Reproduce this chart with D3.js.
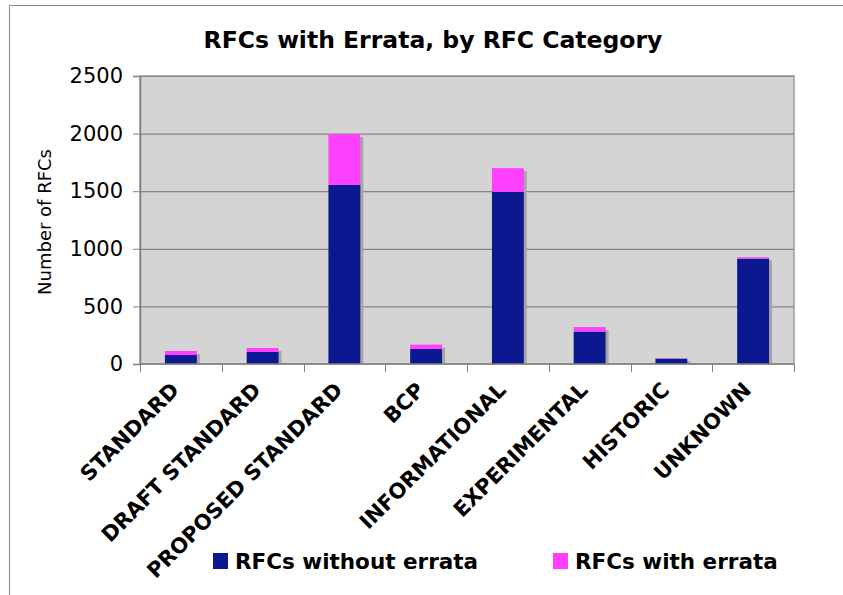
<!DOCTYPE html>
<html>
<head>
<meta charset="utf-8">
<script src="https://cdn.jsdelivr.net/npm/d3@7"></script>
<style>
  body { margin: 0; background: #fff; }
  svg { display: block; font-family: "DejaVu Sans", Verdana, sans-serif; }
</style>
</head>
<body>
<svg id="chart"></svg>
<script>
// Data
var categories = ['STANDARD', 'DRAFT STANDARD', 'PROPOSED STANDARD', 'BCP',
                  'INFORMATIONAL', 'EXPERIMENTAL', 'HISTORIC', 'UNKNOWN'];
var withoutErrata = [78, 104, 1555, 130, 1495, 281, 46, 915];
var withErrata = [35, 35, 440, 38, 205, 40, 3, 11];
var yTicks = [0, 500, 1000, 1500, 2000, 2500];
var seriesNames = ['RFCs without errata', 'RFCs with errata'];

var config = {
  width: 843,
  height: 595,
  plot: { left: 140, top: 76, right: 794, bottom: 364 },
  colors: ['#0c188f', '#ff40ff'],
  shadow: '#a6a6a6',
  plotBg: '#d4d4d4',
  grid: '#858585',
}

var svg = d3.select('#chart')
  .attr('width', config.width)
  .attr('height', config.height);

// outer frame (only top and left edges are visible in the picture)
svg.append('path')
  .attr('d', 'M9.5,' + config.height + 'V5.5H' + config.width)
  .attr('fill', 'none')
  .attr('stroke', '#8a8a8a')
  .attr('stroke-width', 1);

var p = config.plot;
var x = d3.scaleBand()
  .domain(categories)
  .range([p.left, p.right])
  .paddingInner(0.61)
  .paddingOuter(0.305);

var y = d3.scaleLinear()
  .domain([0, 2500])
  .range([p.bottom, p.top]);

// plot background
svg.append('rect')
  .attr('x', p.left)
  .attr('y', p.top)
  .attr('width', p.right - p.left)
  .attr('height', p.bottom - p.top)
  .attr('fill', config.plotBg)
  .attr('stroke', '#9a9a9a')
  .attr('stroke-width', 1.5);

// horizontal grid lines + y axis
var yAxis = svg.append('g')
  .attr('transform', 'translate(' + p.left + ',0)')
  .call(d3.axisLeft(y).tickValues(yTicks).tickFormat(d3.format('d')).tickSize(7).tickPadding(10));
yAxis.select('.domain').attr('stroke', '#808080').attr('stroke-width', 1.5);
yAxis.selectAll('.tick line').attr('stroke', '#808080');
yAxis.selectAll('.tick text')
  .attr('font-size', '21px')
  .attr('font-family', '"DejaVu Sans", Verdana, sans-serif')
  .attr('fill', '#000');

svg.append('g')
  .selectAll('line')
  .data(yTicks.slice(1))
  .join('line')
  .attr('x1', p.left)
  .attr('x2', p.right)
  .attr('y1', function(d) { return y(d) + 0.5; })
  .attr('y2', function(d) { return y(d) + 0.5; })
  .attr('stroke', config.grid)
  .attr('stroke-width', 1.2);

// stack the two series
var rows = categories.map(function(c, i) {
  return { cat: c, without: withoutErrata[i], withE: withErrata[i] };
});
var stack = d3.stack().keys(['without', 'withE'])(rows);

// bar shadows
var clipId = 'plotclip';
svg.append('clipPath').attr('id', clipId)
  .append('rect')
  .attr('x', p.left).attr('y', p.top)
  .attr('width', p.right - p.left).attr('height', p.bottom - p.top);

svg.append('g')
  .attr('clip-path', 'url(#' + clipId + ')')
  .selectAll('rect')
  .data(rows)
  .join('rect')
  .attr('x', function(d) { return x(d.cat) + 3; })
  .attr('y', function(d) { return y(d.without + d.withE) + 3; })
  .attr('width', x.bandwidth())
  .attr('height', function(d) { return y(0) - y(d.without + d.withE); })
  .attr('fill', config.shadow);

// the bars
svg.append('g')
  .selectAll('g')
  .data(stack)
  .join('g')
  .attr('fill', function(d, i) { return config.colors[i]; })
  .selectAll('rect')
  .data(function(d) { return d; })
  .join('rect')
  .attr('x', function(d) { return x(d.data.cat); })
  .attr('y', function(d) { return y(d[1]); })
  .attr('width', x.bandwidth())
  .attr('height', function(d) { return y(d[0]) - y(d[1]); });

// x axis line and boundary ticks
var step = x.step();
var bounds = d3.range(categories.length + 1).map(function(i) { return p.left + i * step; });
svg.append('line')
  .attr('x1', p.left).attr('x2', p.right)
  .attr('y1', p.bottom).attr('y2', p.bottom)
  .attr('stroke', '#808080').attr('stroke-width', 1.5);
svg.append('g')
  .selectAll('line')
  .data(bounds)
  .join('line')
  .attr('x1', function(d) { return Math.round(d) + 0.5; })
  .attr('x2', function(d) { return Math.round(d) + 0.5; })
  .attr('y1', p.bottom)
  .attr('y2', p.bottom + 8)
  .attr('stroke', '#808080');

// rotated category labels
svg.append('g')
  .selectAll('text')
  .data(categories)
  .join('text')
  .attr('transform', function(d) {
    return 'translate(' + (x(d) + x.bandwidth() / 2 - 11) + ',' + (p.bottom + 17) + ') rotate(-45)';
  })
  .attr('text-anchor', 'end')
  .attr('dy', '0.7em')
  .attr('font-size', '21px')
  .attr('font-weight', 'bold')
  .text(function(d) { return d; });

// title
svg.append('text')
  .attr('x', 433)
  .attr('y', 48)
  .attr('text-anchor', 'middle')
  .attr('font-size', '23.5px')
  .attr('font-weight', 'bold')
  .text('RFCs with Errata, by RFC Category');

// y axis title
svg.append('text')
  .attr('transform', 'translate(51,' + 222 + ') rotate(-90)')
  .attr('text-anchor', 'middle')
  .attr('font-size', '18px')
  .text('Number of RFCs');

// legend
var legendX = [213, 553];
var legend = svg.append('g')
  .selectAll('g')
  .data(seriesNames)
  .join('g')
  .attr('transform', function(d, i) { return 'translate(' + legendX[i] + ',553)'; });
legend.append('rect')
  .attr('width', 15)
  .attr('height', 16)
  .attr('fill', function(d, i) { return config.colors[i]; });
legend.append('text')
  .attr('x', 22)
  .attr('y', 16)
  .attr('font-size', '21.5px')
  .attr('font-weight', 'bold')
  .text(function(d) { return d; });
</script>
</body>
</html>
